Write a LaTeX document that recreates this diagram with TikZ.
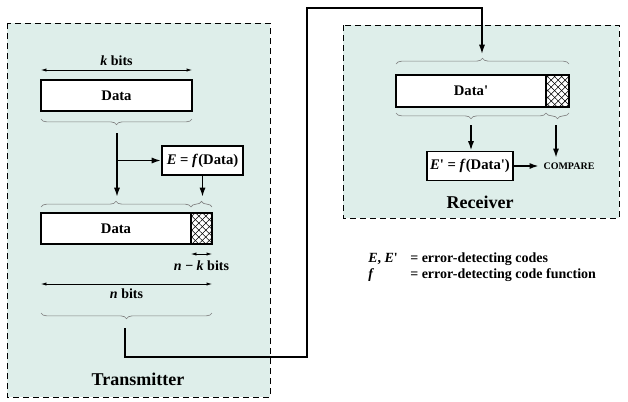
\documentclass[tikz,border=0pt]{standalone}
\usepackage{fontspec}
\setmainfont{Liberation Serif}
\usetikzlibrary{arrows.meta,decorations.pathreplacing,patterns.meta}
\definecolor{panel}{RGB}{222,238,234}
\tikzset{
  panelbox/.style={draw, dash pattern=on 4.5pt off 3pt, line width=0.7pt, fill=panel},
  databox/.style={draw, line width=1.4pt, fill=white, inner sep=0pt},
  hatchbox/.style={databox,
    postaction={pattern={Lines[angle=45,distance=3.7pt,line width=0.4pt]}},
    postaction={pattern={Lines[angle=-45,distance=3.7pt,line width=0.4pt]}}},
  funbox/.style={draw, line width=1.4pt, fill=white, inner sep=1pt},
  flow/.style={->, line width=1.3pt},
  link/.style={->, line width=1.1pt},
  dim/.style={<->, line width=0.5pt, >={Latex[length=4pt,width=2.4pt]}},
  brc/.style={decorate, decoration={brace, amplitude=4.3pt}, draw=gray, line width=0.5pt},
  lbl/.style={font=\fontsize{11}{13}\selectfont\bfseries},
  dimlbl/.style={font=\fontsize{10.5}{12}\selectfont\bfseries},
  ttl/.style={font=\fontsize{13.5}{15}\selectfont\bfseries},
}
\begin{document}
\begin{tikzpicture}[x=0.75pt, y=-0.75pt, >={Latex[length=7pt,width=4.6pt]}]
\useasboundingbox (0,0) rectangle (628,401);
\draw[panelbox] (7,23) rectangle (270,397);
\draw[panelbox] (343,25) rectangle (619,218);

% transmitter side
\node (data1) at (116.5,95.5) [databox, minimum width=113.25pt, minimum height=23.25pt, lbl] {Data};
\coordinate (ka) at (41,70);
\coordinate (kb) at (192,70);
\draw[dim] (ka) -- (kb) node[midway, above, dimlbl] {\textit{k} bits};
\draw[brc] (192,119) -- (41,119);

\node (efun) at (202.5,160.5) [funbox, minimum width=60.75pt, minimum height=21.75pt, lbl] {\textit{E} = \textit{f}(Data)};
\coordinate (s1) at (117,133);
\coordinate (s2) at (117,197);
\draw[flow] (s1) -- (s2);
\draw[flow] (s1 |- efun) -- (efun.west);
\draw[flow] (efun.south) -- (efun.south |- s2);

\draw[brc] (41,207) -- (191,207);
\draw[brc] (191,207) -- (212,207);
\node (data2) at (116,228.5) [databox, minimum width=112.5pt, minimum height=23.25pt, lbl] {Data};
\node (chk2) at (201.5,228.5) [hatchbox, minimum width=15.75pt, minimum height=23.25pt] {};

\coordinate (nka) at (191,254);
\coordinate (nkb) at (212,254);
\draw[dim] (nka) -- (nkb) node[midway, below=1.5pt, dimlbl] {\textit{n} − \textit{k} bits};
\coordinate (na) at (41,284);
\coordinate (nb) at (212,284);
\draw[dim] (na) -- (nb) node[midway, below, dimlbl] {\textit{n} bits};
\draw[brc] (212,313) -- (41,313);
\node (txlabel) at (138,379) [ttl] {Transmitter};

% line across
\coordinate (tx) at (125,328);
\coordinate (rx) at (482,54);
\draw[link] (tx) |- (307,357) -- (307,8) -| (rx);

% receiver side
\draw[brc] (396,64) -- (569,64);
\node (data3) at (471,91) [databox, minimum width=112.5pt, minimum height=24pt, lbl] {Data\textquotesingle};
\node (chk3) at (557.5,91) [hatchbox, minimum width=17.25pt, minimum height=24pt] {};
\draw[brc] (546,113) -- (396,113);
\draw[brc] (569,113) -- (546,113);

\node (efr) at (470,166) [funbox, minimum width=64.5pt, minimum height=21.75pt, lbl] {\textit{E}\textquotesingle{} = \textit{f}(Data\textquotesingle)};
\node (cmp) at (569,166) [font=\fontsize{7.5}{9}\selectfont\bfseries] {COMPARE};
\coordinate (s4) at (471,125);
\coordinate (s5) at (556,125);
\draw[flow] (s4) -- (s4 |- efr.north);
\draw[flow] (s5) -- (s5 |- cmp.north);
\draw[flow] (efr.east) -- (cmp.west);
\node (rxlabel) at (480,202) [ttl] {Receiver};

% key
\node (key) at (368,267) [anchor=west, inner sep=0pt, dimlbl, align=left] {%
\makebox[31.5pt][l]{\textit{E}, \textit{E}\textquotesingle}= error-detecting codes\\
\makebox[31.5pt][l]{\textit{f}}= error-detecting code function};
\end{tikzpicture}
\end{document}
